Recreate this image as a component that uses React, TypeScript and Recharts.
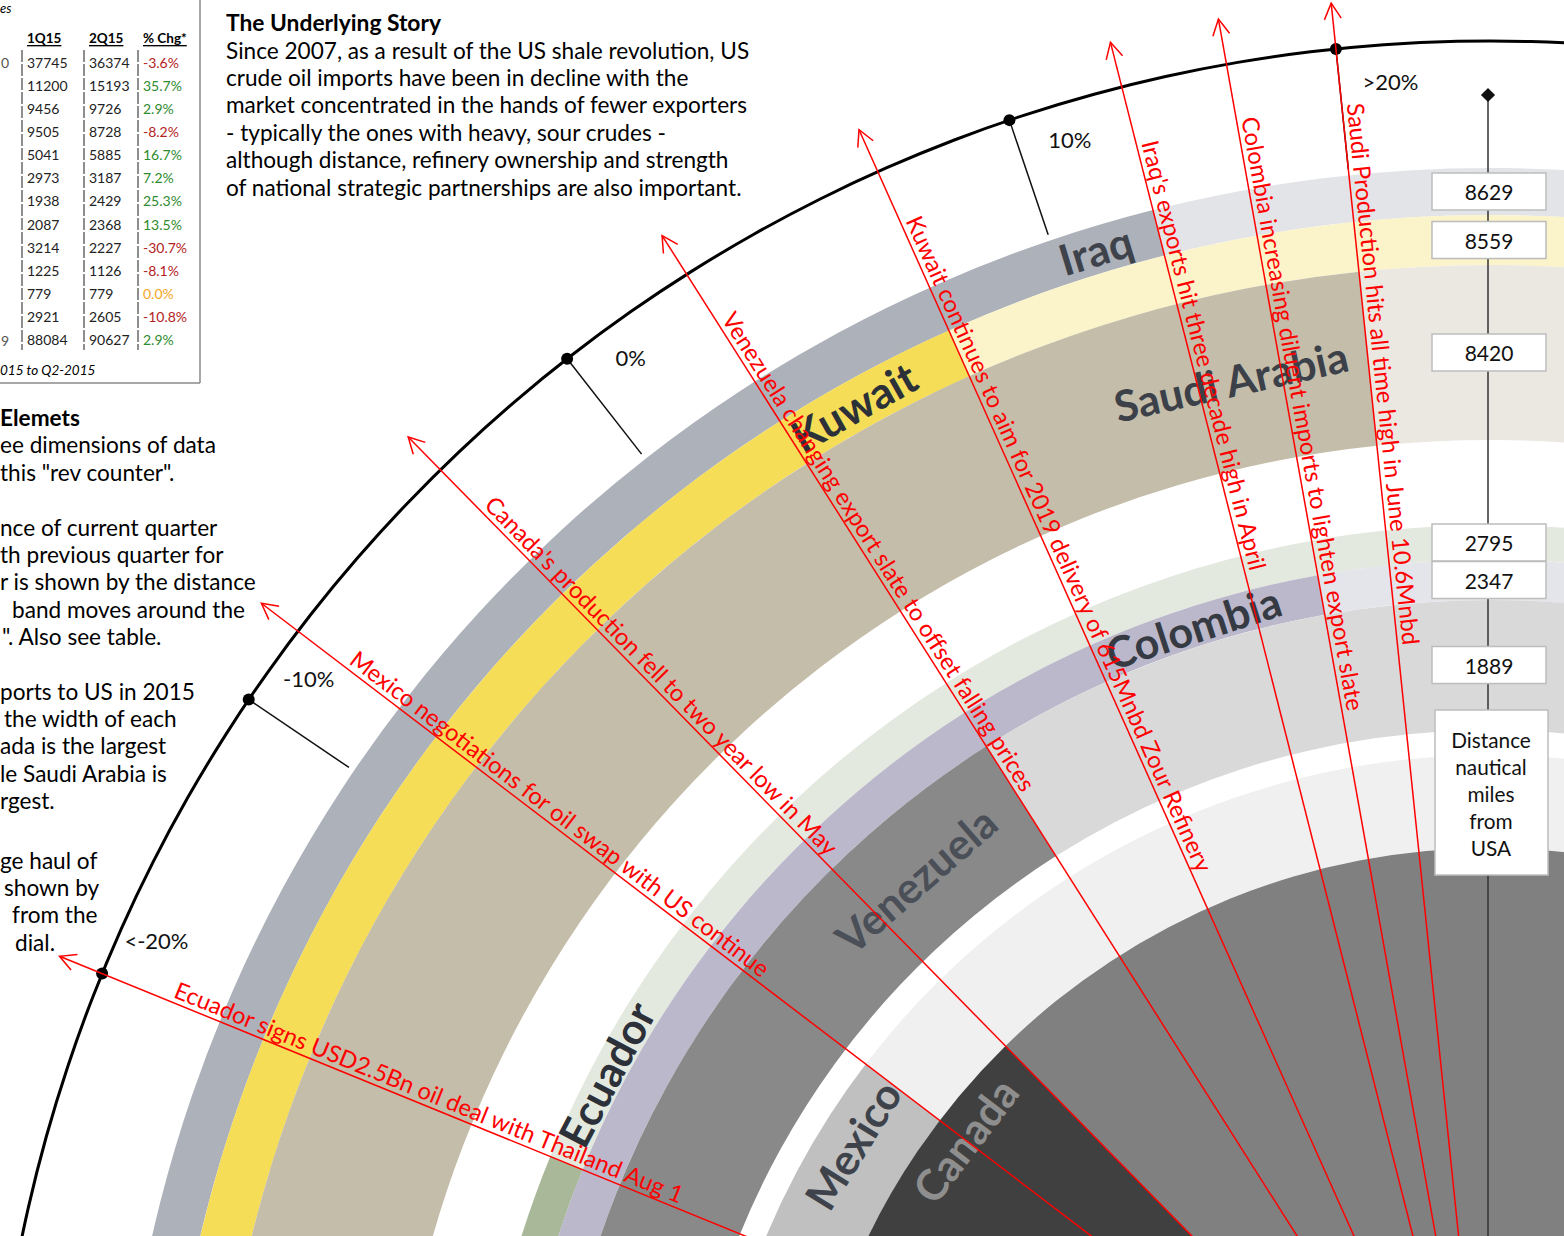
import React from "react";
import { PieChart, Pie, Cell } from "recharts";

const W = 1564;
const H = 1236;
const CX = 1490;
const CY = 1540;
const BAND_END = 45;
const FONT = "Lato, 'Open Sans', sans-serif";

// bands, outermost first
const countries = ["Iraq", "Kuwait", "Saudi Arabia", "Ecuador", "Colombia", "Venezuela", "Mexico", "Canada"];
const pctChange = [13.5, 7.2, 35.7, -30.7, 16.7, 2.9, -8.2, -3.6];
const distanceNm = [8629, 8559, 8420, 2795, 2347, 1889];
const notes = [
  "Iraq's exports hit three decade high in April",
  "Kuwait continues to aim for 2019 delivery of 615Mnbd Zour Refinery",
  "Saudi Production hits all time high in June 10.6Mnbd",
  "Ecuador signs USD2.5Bn oil deal with Thailand Aug 1",
  "Colombia increasing diluent imports to lighten export slate",
  "Venezuela changing export slate to offset falling prices",
  "Mexico negotiations for oil swap with US continue",
  "Canada's production fell to two year low in May",
];

// ring layout (px), same order as countries
const ringInner = [1325, 1275, 1100, 980, 940, 810, 692, 0];
const ringOuter = [1372, 1325, 1275, 1015, 980, 940, 785, 692];
const labelAngle = [107, 119.3, 102.6, 152.2, 108, 131, 148.2, 142.7];
const labelRadius = [1349, 1300, 1188, 999, 960, 875, 750, 660];
const noteStart = [1440, 1443, 1443, 1425, 1443, 1443, 1440, 1443];
const strongColors = ["#adb1b9", "#f6dd57", "#c4bda9", "#a9b899", "#bbb8cb", "#898989", "#c0c0c0", "#404040"];
const fadedColors = ["#e3e4e7", "#fbf3c9", "#ebe8e2", "#e4e9df", "#e4e4eb", "#d9d9d9", "#f0f0f0", "#808080"];
const labelColors = ["#3e434b", "#2b3039", "#3b4049", "#2b3039", "#353a43", "#4a4f58", "#3e434b", "#8e8e8e"];

// dial
const dialValues = [-20, -10, 0, 10, 20];
const dialLabels = ["<-20%", "-10%", "0%", "10%", ">20%"];
const dialAngles = [157.8, 145.9, 128, 108.7, 95.9];

// table
const tableQ1 = [37745, 11200, 9456, 9505, 5041, 2973, 1938, 2087, 3214, 1225, 779, 2921, 88084];
const tableQ2 = [36374, 15193, 9726, 8728, 5885, 3187, 2429, 2368, 2227, 1126, 779, 2605, 90627];
const tableChg = [-3.6, 35.7, 2.9, -8.2, 16.7, 7.2, 25.3, 13.5, -30.7, -8.1, 0.0, -10.8, 2.9];

const storyTitle = "The Underlying Story";
const storyLines = [
  "Since 2007, as a result of the US shale revolution, US",
  "crude oil imports have been in decline with the",
  "market concentrated in the hands of fewer exporters",
  "- typically the ones with heavy, sour crudes -",
  "although distance, refinery ownership and strength",
  "of national strategic partnerships are also important.",
];

const sideLines = [
  { t: "Elemets", bold: true, x: 0, y: 417 },
  { t: "ee dimensions of data", x: 0, y: 444 },
  { t: "this \"rev counter\".", x: 0, y: 472 },
  { t: "nce of current quarter", x: 0, y: 527 },
  { t: "th previous quarter for", x: 0, y: 554 },
  { t: "r is shown by the distance", x: 0, y: 581 },
  { t: "band moves around the", x: 12, y: 609 },
  { t: "\". Also see table.", x: 2, y: 636 },
  { t: "ports to US in 2015", x: 0, y: 691 },
  { t: "the width of each", x: 4, y: 718 },
  { t: "ada is the largest", x: 0, y: 745 },
  { t: "le Saudi Arabia is", x: 0, y: 773 },
  { t: "rgest.", x: 0, y: 800 },
  { t: "ge haul of", x: 0, y: 860 },
  { t: "shown by", x: 4, y: 887 },
  { t: "from the", x: 12, y: 914 },
  { t: "dial.", x: 15, y: 942 },
];

function dialAngle(p: number) {
  const v = Math.max(dialValues[0], Math.min(dialValues[dialValues.length - 1], p));
  for (let i = 0; i < dialValues.length - 1; i++) {
    if (v <= dialValues[i + 1]) {
      const f = (v - dialValues[i]) / (dialValues[i + 1] - dialValues[i]);
      return dialAngles[i] + f * (dialAngles[i + 1] - dialAngles[i]);
    }
  }
  return dialAngles[dialAngles.length - 1];
}

function polar(r: number, a: number) {
  const t = (a * Math.PI) / 180;
  return [CX + r * Math.cos(t), CY - r * Math.sin(t)];
}

function Overlay() {
  const boxW = 114;
  const boxH = 37;
  return (
    <svg width={W} height={H} style={{ position: "absolute", left: 0, top: 0, pointerEvents: "none" }} fontFamily={FONT}>
      {/* table */}
      <line x1={200} y1={0} x2={200} y2={383} stroke="#8a8a8a" strokeWidth={1.5} />
      <line x1={0} y1={383} x2={200} y2={383} stroke="#8a8a8a" strokeWidth={1.5} />
      <text x={0} y={8} fontSize={13} fontStyle="italic" dominantBaseline="central">es</text>
      {["1Q15", "2Q15", "% Chg*"].map((h, i) => (
        <text key={h} x={[27, 89, 143][i]} y={38} fontSize={13.5} fontWeight={700} textDecoration="underline" dominantBaseline="central">{h}</text>
      ))}
      {[22, 84, 138].map((x) => (
        <line key={x} x1={x} y1={50} x2={x} y2={350} stroke="#444" strokeWidth={1.2} strokeDasharray="12 2" />
      ))}
      {tableQ1.map((v, i) => {
        const y = 62 + i * 23.15;
        const c = tableChg[i];
        const col = c > 0 ? "#2e8b2e" : c < 0 ? "#b32222" : "#f5a623";
        return (
          <g key={i} fontSize={14} dominantBaseline="central">
            <text x={27} y={y} fill="#222">{v}</text>
            <text x={89} y={y} fill="#222">{tableQ2[i]}</text>
            <text x={143} y={y} fill={col}>{c.toFixed(1) + "%"}</text>
          </g>
        );
      })}
      <text x={1} y={62} fontSize={14} fill="#555" dominantBaseline="central">0</text>
      <text x={1} y={340} fontSize={14} fill="#555" dominantBaseline="central">9</text>
      <text x={0} y={370} fontSize={13.5} fontStyle="italic" dominantBaseline="central">015 to Q2-2015</text>

      {/* story */}
      <text x={226} y={22} fontSize={22.8} fontWeight={700} dominantBaseline="central">{storyTitle}</text>
      {storyLines.map((t, i) => (
        <text key={i} x={226} y={50 + i * 27.4} fontSize={22.6} dominantBaseline="central">{t}</text>
      ))}
      {sideLines.map((l, i) => (
        <text key={i} x={l.x} y={l.y} fontSize={22.6} fontWeight={l.bold ? 700 : 400} dominantBaseline="central">{l.t}</text>
      ))}

      {/* distance axis */}
      <line x1={CX - 2} y1={CY - 1445} x2={CX - 2} y2={H} stroke="#333" strokeWidth={1.5} />
      <rect x={CX - 7} y={CY - 1445 - 5} width={10} height={10} fill="#111" transform={`rotate(45 ${CX - 2} ${CY - 1445})`} />

      {/* dial ticks */}
      {dialAngles.map((a, i) => {
        const [x1, y1] = polar(1499, a);
        const [x2, y2] = polar(1378, a);
        const [lx, ly] = polar(1462, a - 2);
        return (
          <g key={i}>
            {i > 0 && <line x1={x1} y1={y1} x2={x2} y2={y2} stroke="#111" strokeWidth={1.5} />}
            <circle cx={x1} cy={y1} r={6} fill="#000" />
            <text x={lx} y={ly} fontSize={22} textAnchor="middle" dominantBaseline="central" fill="#111">{dialLabels[i]}</text>
          </g>
        );
      })}

      {/* country labels */}
      {countries.map((c, i) => {
        const [x, y] = polar(labelRadius[i], labelAngle[i]);
        return (
          <text key={c} x={x} y={y} fontSize={43} fontWeight={700} fill={labelColors[i]} textAnchor="middle" dominantBaseline="central" transform={`rotate(${90 - labelAngle[i]} ${x} ${y})`}>{c}</text>
        );
      })}

      {/* annotations */}
      {countries.map((c, i) => {
        const a = dialAngle(pctChange[i]);
        const [tx, ty] = polar(1545, a);
        const t = (a * Math.PI) / 180;
        const bx = -Math.cos(t);
        const by = Math.sin(t);
        const wing = (s: number) => {
          const p = (s * 28 * Math.PI) / 180;
          return [tx + 18 * (bx * Math.cos(p) - by * Math.sin(p)), ty + 18 * (bx * Math.sin(p) + by * Math.cos(p))];
        };
        const [w1x, w1y] = wing(1);
        const [w2x, w2y] = wing(-1);
        const [sx, sy] = polar(noteStart[i], a);
        const rot = (Math.atan2(by, bx) * 180) / Math.PI;
        return (
          <g key={c}>
            <line x1={CX} y1={CY} x2={tx} y2={ty} stroke="#ff0000" strokeWidth={1.5} />
            <polyline points={`${w1x},${w1y} ${tx},${ty} ${w2x},${w2y}`} fill="none" stroke="#ff0000" strokeWidth={1.5} />
            <text x={sx} y={sy} dy={-5} fontSize={23.6} fill="#ff0000" transform={`rotate(${rot} ${sx} ${sy})`}>{notes[i]}</text>
          </g>
        );
      })}

      {/* distance boxes */}
      {distanceNm.map((d, i) => {
        const yc = CY - (ringInner[i] + ringOuter[i]) / 2;
        return (
          <g key={i}>
            <rect x={CX - boxW / 2 - 1} y={yc - boxH / 2} width={boxW} height={boxH} fill="#fff" stroke="#bdbdbd" strokeWidth={1.5} />
            <text x={CX - 1} y={yc} fontSize={21} textAnchor="middle" dominantBaseline="central" fill="#111">{d}</text>
          </g>
        );
      })}
      <rect x={CX - 55} y={CY - 830} width={113} height={165} fill="#fff" stroke="#bdbdbd" strokeWidth={1.5} />
      {["Distance", "nautical", "miles", "from", "USA"].map((t, i) => (
        <text key={t} x={CX + 1} y={CY - 801 + i * 27.2} fontSize={20.8} textAnchor="middle" dominantBaseline="central" fill="#111">{t}</text>
      ))}
    </svg>
  );
}

export default function App() {
  return (
    <div style={{ position: "absolute", left: 0, top: 0, width: W, height: H, overflow: "hidden", background: "#fff" }}>
      <PieChart width={W} height={H} margin={{ top: 0, right: 0, bottom: 0, left: 0 }}>
        {countries.map((c, i) => {
          const a = dialAngle(pctChange[i]);
          const data = [
            { name: c + " 2Q15", value: 180 - a },
            { name: c + " rest", value: a - BAND_END },
          ];
          return (
            <Pie
              key={c}
              data={data}
              dataKey="value"
              cx={CX}
              cy={CY}
              innerRadius={ringInner[i]}
              outerRadius={ringOuter[i]}
              startAngle={180}
              endAngle={BAND_END}
              stroke="none"
              isAnimationActive={false}
            >
              <Cell fill={strongColors[i]} />
              <Cell fill={fadedColors[i]} />
            </Pie>
          );
        })}
        <Pie
          data={[{ name: "dial", value: 1 }]}
          dataKey="value"
          cx={CX}
          cy={CY}
          innerRadius={1497.5}
          outerRadius={1500.5}
          startAngle={170}
          endAngle={80}
          stroke="none"
          fill="#000"
          isAnimationActive={false}
        />
      </PieChart>
      <Overlay />
    </div>
  );
}
